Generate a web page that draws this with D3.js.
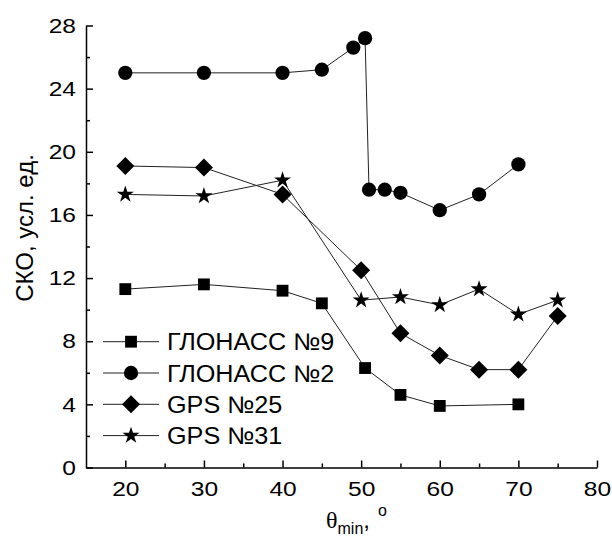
<!DOCTYPE html>
<html>
<head>
<meta charset="utf-8">
<script src="https://cdn.jsdelivr.net/npm/d3@7"></script>
<style>
  body { margin: 0; background: #fff; }
  svg { display: block; }
  text { font-family: "Liberation Sans", Arial, sans-serif; fill: #000; }
</style>
</head>
<body>
<div id="chart"></div>
<script>
// values
const glonass9X = [20, 30, 40, 45, 50.5, 55, 60, 70];
const glonass9Y = [11.3, 11.6, 11.2, 10.4, 6.3, 4.6, 3.9, 4.0];

const glonass2X = [20, 30, 40, 45, 49, 50.5, 51, 53, 55, 60, 65, 70];
const glonass2Y = [25.0, 25.0, 25.0, 25.2, 26.6, 27.2, 17.6, 17.6, 17.4, 16.3, 17.3, 19.2];

const gps25X = [20, 30, 40, 50, 55, 60, 65, 70, 75];
const gps25Y = [19.1, 19.0, 17.3, 12.5, 8.5, 7.1, 6.2, 6.2, 9.6];

const gps31X = [20, 30, 40, 50, 55, 60, 65, 70, 75];
const gps31Y = [17.3, 17.2, 18.2, 10.6, 10.8, 10.3, 11.3, 9.7, 10.6];

const seriesNames = ["ГЛОНАСС №9", "ГЛОНАСС №2", "GPS №25", "GPS №31"];
const xTicks = [20, 30, 40, 50, 60, 70, 80];
const xMinor = [25, 35, 45, 55, 65, 75];
const yTicks = [0, 4, 8, 12, 16, 20, 24, 28];
const yMinor = [2, 6, 10, 14, 18, 22, 26];

const width = 612, height = 541;

const svg = d3.select("#chart").append("svg")
    .attr("width", width)
    .attr("height", height);

const x = d3.scaleLinear().domain([15, 80]).range([86, 597]);
const y = d3.scaleLinear().domain([0, 28]).range([467.5, 25.5]);

// marker shapes
const diamond = s => `M0,${-s}L${s},0L0,${s}L${-s},0Z`;
const shapes = [
    d3.symbol().type(d3.symbolSquare).size(140)(),
    d3.symbol().type(d3.symbolCircle).size(160)(),
    diamond(9),
    d3.symbol().type(d3.symbolStar).size(90)()
];

const series = [
    glonass9X.map((v, i) => [v, glonass9Y[i]]),
    glonass2X.map((v, i) => [v, glonass2Y[i]]),
    gps25X.map((v, i) => [v, gps25Y[i]]),
    gps31X.map((v, i) => [v, gps31Y[i]])
];

// axes (ticks point inward)
const gx = svg.append("g")
    .attr("transform", `translate(0,${y(0)})`)
    .call(d3.axisBottom(x).tickValues(xTicks).tickSize(-7).tickSizeOuter(0).tickPadding(14));
svg.append("g")
    .attr("transform", `translate(0,${y(0)})`)
    .call(d3.axisBottom(x).tickValues(xMinor).tickSize(-4).tickFormat(""))
    .select(".domain").remove();

const gy = svg.append("g")
    .attr("transform", `translate(${x(15)},0)`)
    .call(d3.axisLeft(y).tickValues(yTicks).tickSize(-7).tickSizeOuter(0).tickPadding(10));
svg.append("g")
    .attr("transform", `translate(${x(15)},0)`)
    .call(d3.axisLeft(y).tickValues(yMinor).tickSize(-4).tickFormat(""))
    .select(".domain").remove();

svg.selectAll(".domain, .tick line").attr("stroke", "#000").attr("stroke-width", 1.5);
svg.selectAll(".tick text")
    .style("font-size", "21px")
    .style("font-family", "'Liberation Sans', Arial, sans-serif")
    .attr("fill", "#000");
// the original digits are a little wider than plain Arial
gx.selectAll(".tick text").attr("transform", "scale(1.17,1)");
gy.selectAll(".tick text").attr("x", -10 / 1.17).attr("transform", "scale(1.17,1)");

// lines
const line = d3.line().x(d => x(d[0])).y(d => y(d[1]));
svg.append("g").selectAll("path")
    .data(series)
    .enter().append("path")
    .attr("d", line)
    .attr("fill", "none")
    .attr("stroke", "#222")
    .attr("stroke-width", 1);

// markers
series.forEach((pts, k) => {
    svg.append("g").selectAll("path")
        .data(pts)
        .enter().append("path")
        .attr("d", shapes[k])
        .attr("transform", d => `translate(${x(d[0])},${y(d[1])})`)
        .attr("fill", "#000");
});

// legend
const legend = svg.append("g").selectAll("g")
    .data(seriesNames)
    .enter().append("g")
    .attr("transform", (d, i) => `translate(0,${341.7 + i * 31.3})`);
legend.append("line")
    .attr("x1", 103).attr("x2", 159)
    .attr("stroke", "#222").attr("stroke-width", 1);
legend.append("path")
    .attr("d", (d, i) => shapes[i])
    .attr("transform", "translate(131,0)")
    .attr("fill", "#000");
legend.append("text")
    .attr("transform", "translate(167,0) scale(1.05,1)")
    .attr("dy", "0.36em")
    .style("font-size", "24px")
    .text(d => d);

// axis titles
svg.append("text")
    .attr("transform", "translate(33,228) rotate(-90)")
    .attr("text-anchor", "middle")
    .style("font-size", "24px")
    .text("СКО, усл. ед.");

const xt = svg.append("text")
    .attr("x", 326)
    .attr("y", 528)
    .style("font-size", "24px");
xt.append("tspan").style("font-family", "'Liberation Serif', serif").text("θ");
xt.append("tspan").attr("dy", 6).style("font-size", "16px").text("min");
xt.append("tspan").attr("dy", -6).text(",");
xt.append("tspan").attr("dx", 8).attr("dy", -12).style("font-size", "16px").text("o");
</script>
</body>
</html>
